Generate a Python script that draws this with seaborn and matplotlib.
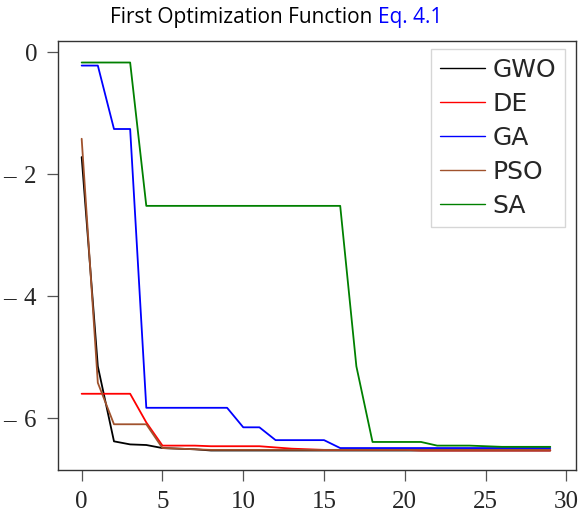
import pandas as pd
import numpy as np
import matplotlib
matplotlib.use('Agg')
import matplotlib.pyplot as plt
import seaborn as sns

sns.set_style('ticks')
plt.rcParams['font.family'] = ['Liberation Serif', 'DejaVu Serif']

# Convergence curves (iteration 0..29)
iters = list(range(30))
gwo = [-1.72, -5.15, -6.38, -6.43, -6.44, -6.49, -6.50, -6.51, -6.53, -6.53,
       -6.53, -6.53, -6.53, -6.53, -6.53, -6.53, -6.53, -6.53, -6.53, -6.53,
       -6.53, -6.53, -6.53, -6.53, -6.53, -6.53, -6.53, -6.53, -6.53, -6.53]
de = [-5.60, -5.60, -5.60, -5.60, -6.07, -6.45, -6.45, -6.45, -6.46, -6.46,
      -6.46, -6.46, -6.48, -6.50, -6.51, -6.52, -6.52, -6.52, -6.52, -6.52,
      -6.52, -6.53, -6.53, -6.53, -6.53, -6.53, -6.53, -6.53, -6.53, -6.53]
ga = [-0.22, -0.22, -1.26, -1.26, -5.83, -5.83, -5.83, -5.83, -5.83, -5.83,
      -6.15, -6.15, -6.36, -6.36, -6.36, -6.36, -6.49, -6.49, -6.49, -6.49,
      -6.49, -6.49, -6.49, -6.49, -6.49, -6.49, -6.49, -6.49, -6.49, -6.49]
pso = [-1.42, -5.42, -6.10, -6.10, -6.10, -6.49, -6.50, -6.51, -6.52, -6.52,
       -6.52, -6.52, -6.52, -6.52, -6.52, -6.52, -6.52, -6.52, -6.52, -6.52,
       -6.52, -6.52, -6.52, -6.52, -6.52, -6.52, -6.52, -6.52, -6.52, -6.52]
sa = [-0.17, -0.17, -0.17, -0.17, -2.52, -2.52, -2.52, -2.52, -2.52, -2.52,
      -2.52, -2.52, -2.52, -2.52, -2.52, -2.52, -2.52, -5.15, -6.39, -6.39,
      -6.39, -6.39, -6.45, -6.45, -6.45, -6.46, -6.47, -6.47, -6.47, -6.47]

algos = ['GWO', 'DE', 'GA', 'PSO', 'SA']
colores = ['black', 'red', 'blue', '#a0522d', 'green']

df = pd.DataFrame({'iter': iters * 5,
                   'valor': gwo + de + ga + pso + sa,
                   'algo': np.repeat(algos, len(iters))})

fig = plt.figure(figsize=(5.85, 5.23), dpi=100)
ax = fig.add_axes([0.099, 0.1013, 0.885, 0.820])
sns.lineplot(data=df, x='iter', y='valor', hue='algo', hue_order=algos,
             palette=colores, linewidth=1.3, ax=ax)

ax.set_xlim(-1.47, 30.57)
ax.set_ylim(-6.85, 0.18)
ax.set_xticks([0, 5, 10, 15, 20, 25, 30])
ax.set_yticks([0, -2, -4, -6])
ax.set_yticklabels(['0', '\u2013 \u200a2', '\u2013 \u200a4', '\u2013 \u200a6'])
ax.tick_params(direction='out', length=8, width=0.9, labelsize=18, pad=7,
               color='#555555')
ax.set_xlabel('')
ax.set_ylabel('')
for s in ax.spines.values():
    s.set_visible(True)
    s.set_linewidth(1.0)
    s.set_color('#333333')

leg = ax.legend(loc='upper right', bbox_to_anchor=(0.979, 0.981),
                frameon=True, fancybox=False, edgecolor='#cccccc',
                handlelength=1.8, handletextpad=0.3, borderpad=0.35,
                labelspacing=0.4, borderaxespad=0,
                prop={'family': 'DejaVu Sans', 'size': 18})
leg.get_frame().set_linewidth(1.0)
for l in leg.get_lines():
    l.set_linewidth(1.0)

# Titulo em duas cores
fig.text(0.646, 0.966, 'First Optimization Function ', ha='right', va='center',
         fontsize=15, family='Open Sans', color='black')
fig.text(0.646, 0.966, 'Eq. 4.1', ha='left', va='center',
         fontsize=15, family='Open Sans', color='blue')

fig.savefig('out.png', dpi=100)
